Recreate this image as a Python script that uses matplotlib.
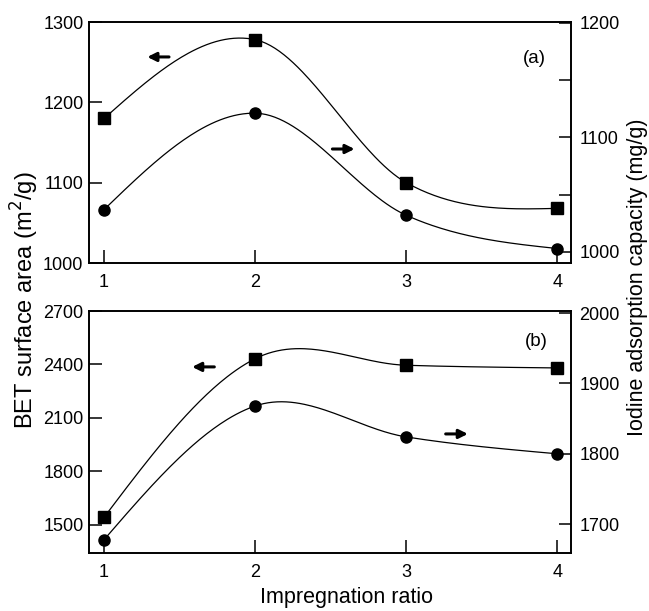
import numpy as np
import matplotlib
matplotlib.use('Agg')
import matplotlib.pyplot as plt

plt.rcParams['font.family'] = ['Liberation Sans', 'DejaVu Sans']

#%% Data
ratio = [1, 2, 3, 4]
bet_a = [1180, 1278, 1100, 1068]       # left axis, squares
iodine_a = [1037, 1121, 1032, 1003]    # right axis, circles
bet_b = [1541, 2432, 2395, 2380]
iodine_b = [1678, 1868, 1824, 1800]


def smooth(x, y, n=200):
    # Catmull-Rom type Hermite curve through the points, natural end tangents
    x = np.asarray(x, float)
    y = np.asarray(y, float)
    k = len(x)
    m = np.zeros(k)
    for i in range(1, k - 1):
        m[i] = (y[i + 1] - y[i - 1]) / (x[i + 1] - x[i - 1])
    m[0] = (3 * (y[1] - y[0]) / (x[1] - x[0]) - m[1]) / 2
    m[-1] = (3 * (y[-1] - y[-2]) / (x[-1] - x[-2]) - m[-2]) / 2
    xs = np.linspace(x[0], x[-1], n)
    idx = np.clip(np.searchsorted(x, xs) - 1, 0, k - 2)
    h = x[idx + 1] - x[idx]
    t = (xs - x[idx]) / h
    h00 = 2 * t**3 - 3 * t**2 + 1
    h10 = t**3 - 2 * t**2 + t
    h01 = -2 * t**3 + 3 * t**2
    h11 = t**3 - t**2
    ys = h00 * y[idx] + h10 * h * m[idx] + h01 * y[idx + 1] + h11 * h * m[idx + 1]
    return xs, ys


fig = plt.figure(figsize=(6.49, 6.11), dpi=100)
W, H = 649., 611.
left, right = 89 / W, 571 / W

panels = [
    dict(top=22, bot=263, bet=bet_a, iod=iodine_a, ylim=(1000, 1300), yt=[1000, 1100, 1200, 1300],
         y2lim=(990.4, 1200.5), y2t=[1000, 1050, 1100, 1150, 1200], y2lab=['1000', '', '1100', '', '1200'],
         tag='(a)', tagpos=(0.923, 0.85), la=(0.166, 0.121, 0.855), ra=(0.505, 0.551, 0.473)),
    dict(top=311, bot=553, bet=bet_b, iod=iodine_b, ylim=(1340, 2700), yt=[1500, 1800, 2100, 2400, 2700],
         y2lim=(1659, 2003), y2t=[1700, 1800, 1900, 2000], y2lab=['1700', '1800', '1900', '2000'],
         tag='(b)', tagpos=(0.927, 0.872), la=(0.260, 0.214, 0.769), ra=(0.740, 0.786, 0.492)),
]

for p in panels:
    ax = fig.add_axes([left, 1 - p['bot'] / H, right - left, (p['bot'] - p['top']) / H])
    ax2 = ax.twinx()

    xs, ys = smooth(ratio, p['bet'])
    ax.plot(xs, ys, color='k', lw=0.9)
    ax.plot(ratio, p['bet'], 's', color='k', ms=9, clip_on=False)
    xs, ys = smooth(ratio, p['iod'])
    ax2.plot(xs, ys, color='k', lw=0.9)
    ax2.plot(ratio, p['iod'], 'o', color='k', ms=8, clip_on=False)

    ax.set_xlim(0.9, 4.09)
    ax.set_xticks(ratio)
    ax.set_ylim(*p['ylim'])
    ax.set_yticks(p['yt'])
    ax2.set_ylim(*p['y2lim'])
    ax2.set_yticks(p['y2t'])
    ax2.set_yticklabels(p['y2lab'])

    ax.tick_params(axis='x', direction='in', length=9.5, width=1.1, labelsize=13, pad=8, top=False)
    ax.tick_params(axis='y', direction='in', length=9.5, width=1.1, labelsize=13, pad=4)
    ax2.tick_params(axis='y', direction='in', length=9, width=1.1, labelsize=13, pad=6)
    for a in (ax, ax2):
        for s in a.spines.values():
            s.set_linewidth(1.2)

    ax.text(p['tagpos'][0], p['tagpos'][1], p['tag'], transform=ax.transAxes,
            ha='center', va='center', fontsize=13.5)
    # arrows pointing to the axis each curve belongs to
    x0, x1, y = p['la']
    ax.annotate('', xy=(x1, y), xytext=(x0, y), xycoords='axes fraction',
                arrowprops=dict(arrowstyle='-|>', color='k', lw=2.2, mutation_scale=13,
                                shrinkA=0, shrinkB=0))
    x0, x1, y = p['ra']
    ax.annotate('', xy=(x1, y), xytext=(x0, y), xycoords='axes fraction',
                arrowprops=dict(arrowstyle='-|>', color='k', lw=2.2, mutation_scale=13,
                                shrinkA=0, shrinkB=0))

fig.text(25 / W, 1 - 300 / H, 'BET surface area (m$^2$/g)', rotation=90, ha='center', va='center', fontsize=17)
fig.text(637 / W, 1 - 277 / H, 'Iodine adsorption capacity (mg/g)', rotation=90, ha='center', va='center', fontsize=15.5)
fig.text(346 / W, 1 - 597 / H, 'Impregnation ratio', ha='center', va='center', fontsize=15.5)

fig.savefig('out.png', dpi=100)
